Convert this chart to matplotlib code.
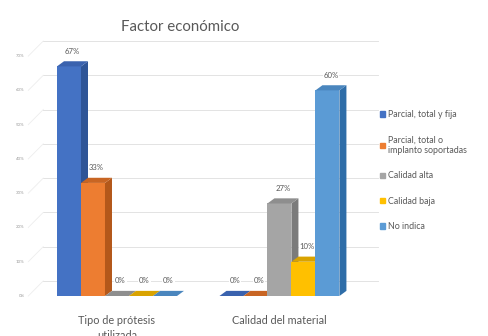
import matplotlib
matplotlib.use("Agg")
import matplotlib.pyplot as plt
from matplotlib.patches import Polygon, Patch

plt.rcParams["font.family"] = ["Lato", "DejaVu Sans"]

categories = ["Tipo de prótesis\nutilizada", "Calidad del material"]
series = ["Parcial, total y fija", "Parcial, total o\nimplanto soportadas",
          "Calidad alta", "Calidad baja", "No indica"]
values = [
    [0.67, 0.00],   # Parcial, total y fija
    [0.33, 0.00],   # Parcial, total o implanto soportadas
    [0.00, 0.27],   # Calidad alta
    [0.00, 0.10],   # Calidad baja
    [0.00, 0.60],   # No indica
]
yticks = [0, 0.1, 0.2, 0.3, 0.4, 0.5, 0.6, 0.7]

front = ["#4472C4", "#ED7D31", "#A5A5A5", "#FFC000", "#5B9BD5"]
side = ["#2F5597", "#B4581A", "#7B7B7B", "#BF9000", "#2E6DA8"]
top = ["#3A62AE", "#C86523", "#8E8E8E", "#D9A300", "#4A86BE"]
TXT = "#595959"

cat_pos = [0.0, 6.5]
width = 0.96
dx, dy = 0.28, 0.015        # bar depth
wx, wy = 0.65, 0.044        # back wall offset

fig = plt.figure(figsize=(4.88, 3.36), dpi=100)
ax = fig.add_axes([0.0615, 0.119, 0.717, 0.765])
ax.set_xlim(-3.48, 10.52)
ax.set_ylim(0, 0.75)
ax.axis("off")

# back wall gridlines + faint side-wall diagonals
for t in yticks:
    ax.plot([-2.95, 10.45], [t + wy, t + wy], color="#E3E3E3", lw=0.7,
            zorder=0, clip_on=False)
    ax.plot([-3.55, -2.95], [t, t + wy], color="#EDEDED", lw=0.6,
            zorder=0, clip_on=False)
    ax.text(-3.7, t, f"{t:.0%}", ha="right", va="center", fontsize=3.2,
            color="#9A9A9A")

n = len(series)
handles = []
for i, (name, vals) in enumerate(zip(series, values)):
    xs = [c + (i - (n - 1) / 2) * width for c in cat_pos]
    bars = ax.bar(xs, vals, width=width, color=front[i], zorder=2,
                  linewidth=0)
    for x, v in zip(xs, vals):
        r = x + width / 2
        l = x - width / 2
        ax.add_patch(Polygon([(r, 0), (r + dx, dy), (r + dx, v + dy), (r, v)],
                             closed=True, color=side[i], lw=0, zorder=2))
        ax.add_patch(Polygon([(l, v), (l + dx, v + dy), (r + dx, v + dy), (r, v)],
                             closed=True, color=top[i], lw=0, zorder=2))
        ax.annotate(f"{v:.0%}", (x + dx / 2, v), xytext=(0, 11),
                    textcoords="offset points", ha="center", va="center",
                    fontsize=5.6, color=TXT, zorder=4,
                    bbox=dict(boxstyle="square,pad=0.1", fc="white", ec="none"))
    handles.append(Patch(color=front[i]))

for c, lab in zip(cat_pos, categories):
    ax.text(c, -0.055, lab, ha="center", va="top", fontsize=7.8, color=TXT,
            linespacing=1.5)

fig.text(0.37, 0.92, "Factor económico", ha="center", va="center",
         fontsize=10.8, color=TXT)

fig.legend(handles, series, loc="upper left", bbox_to_anchor=(0.772, 0.683),
           frameon=False, fontsize=6.4, labelcolor=TXT, handlelength=0.55,
           handleheight=0.55, handletextpad=0.3, labelspacing=1.85,
           borderaxespad=0)

fig.savefig("out.png", dpi=100)
